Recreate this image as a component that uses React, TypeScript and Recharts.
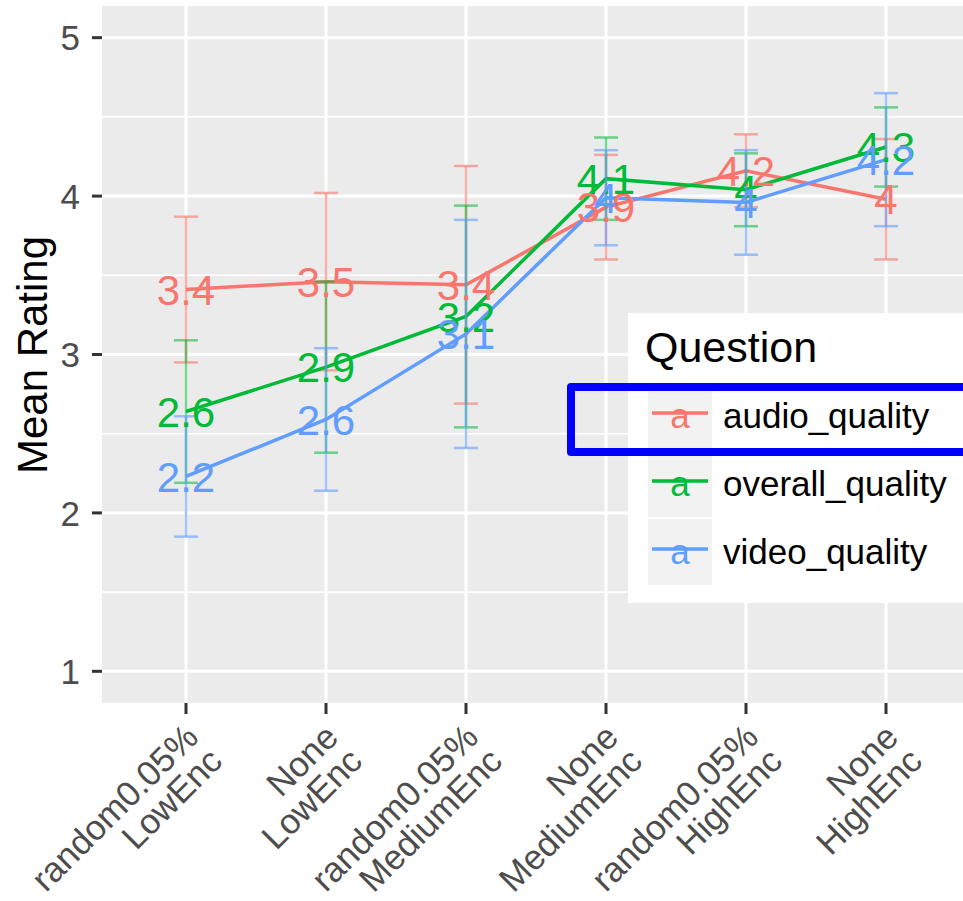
import React from 'react';
import { LineChart, Line, XAxis, YAxis, CartesianGrid, ErrorBar, LabelList } from 'recharts';

// x categories (two-line tick labels)
const CATEGORY_TOP = ['random0.05%', 'None', 'random0.05%', 'None', 'random0.05%', 'None'];
const CATEGORY_BOTTOM = ['LowEnc', 'LowEnc', 'MediumEnc', 'MediumEnc', 'HighEnc', 'HighEnc'];

// mean ratings and error-bar half widths
const AUDIO_MEAN = [3.41, 3.46, 3.44, 3.93, 4.16, 3.98];
const AUDIO_ERR = [0.46, 0.56, 0.75, 0.33, 0.23, 0.38];
const OVERALL_MEAN = [2.64, 2.92, 3.24, 4.11, 4.04, 4.31];
const OVERALL_ERR = [0.45, 0.54, 0.7, 0.26, 0.23, 0.25];
const VIDEO_MEAN = [2.23, 2.59, 3.13, 3.99, 3.96, 4.23];
const VIDEO_ERR = [0.38, 0.45, 0.72, 0.3, 0.33, 0.42];

const Y_TICKS = [1, 2, 3, 4, 5];
const Y_MINOR = [1.5, 2.5, 3.5, 4.5];
const X_TICKS = [1, 2, 3, 4, 5, 6];

const SERIES = [
  { key: 'audio', name: 'audio_quality', color: '#F8766D', bar: 'rgba(248,118,109,0.6)' },
  { key: 'overall', name: 'overall_quality', color: '#00BA38', bar: 'rgba(0,186,56,0.55)' },
  { key: 'video', name: 'video_quality', color: '#619CFF', bar: 'rgba(97,156,255,0.6)' },
];

const data = CATEGORY_TOP.map((_, i) => ({
  x: i + 1,
  audio: AUDIO_MEAN[i],
  audioErr: AUDIO_ERR[i],
  overall: OVERALL_MEAN[i],
  overallErr: OVERALL_ERR[i],
  video: VIDEO_MEAN[i],
  videoErr: VIDEO_ERR[i],
}));

const FONT = '"Liberation Sans", Arial, Helvetica, sans-serif';
const AXIS_GRAY = '#4D4D4D';

// ggplot-style label: one decimal, no trailing zero
const fmt = (v: number) => String(Number(v.toFixed(1)));

function XTick({ x, y, payload }: any) {
  const i = payload.value - 1;
  return (
    <g transform={`translate(${x},${y + 9})`}>
      <text transform="rotate(-45)" textAnchor="end" fontSize={35} fill={AXIS_GRAY} fontFamily={FONT}>
        <tspan x={0} y={20}>{CATEGORY_TOP[i]}</tspan>
        <tspan x={0} y={54}>{CATEGORY_BOTTOM[i]}</tspan>
      </text>
    </g>
  );
}

function YTick({ x, y, payload }: any) {
  return (
    <text x={x + 2} y={y} dy="0.36em" textAnchor="end" fontSize={35} fill={AXIS_GRAY} fontFamily={FONT}>
      {payload.value}
    </text>
  );
}

function YTitle() {
  return (
    <text transform="translate(47,355) rotate(-90)" textAnchor="middle" fontSize={42} fill="#000" fontFamily={FONT}>
      Mean Rating
    </text>
  );
}

function makeLabel(color: string) {
  return (p: any) => (
    <text
      x={p.x}
      y={p.y}
      dy="0.36em"
      textAnchor="middle"
      fontSize={42}
      fill={color}
      fontFamily={FONT}
    >
      {fmt(p.value)}
    </text>
  );
}

function LegendBox() {
  return (
    <div
      style={{
        position: 'absolute',
        left: 628,
        top: 313,
        width: 380,
        height: 290,
        background: '#FFFFFF',
        fontFamily: FONT,
      }}
    >
      <svg width={380} height={290}>
        <text x={17} y={49} fontSize={43} fill="#000">Question</text>
        {SERIES.map((s, i) => {
          const top = 70 + i * 68;
          const cy = top + 33;
          return (
            <g key={s.key}>
              <rect x={20} y={top} width={64} height={66} fill="#F2F2F2" />
              <line x1={24} x2={80} y1={cy - 3} y2={cy - 3} stroke={s.color} strokeWidth={3.5} />
              <text x={52} y={cy + 12} textAnchor="middle" fontSize={35} fill={s.color}>a</text>
              <text x={95} y={cy + 12} fontSize={35} fill="#000">{s.name}</text>
            </g>
          );
        })}
      </svg>
    </div>
  );
}

export default function App() {
  return (
    <div style={{ position: 'absolute', left: 0, top: 0, width: 963, height: 901, overflow: 'hidden', background: '#fff' }}>
      <LineChart width={970} height={901} data={data} margin={{ top: 6, right: 0, bottom: 0, left: 0 }}>
        <CartesianGrid
          fill="#EBEBEB"
          stroke="#FFFFFF"
          strokeWidth={3}
          horizontalValues={Y_TICKS}
          verticalValues={X_TICKS}
        />
        <CartesianGrid fill="none" stroke="#FFFFFF" strokeWidth={1.6} vertical={false} horizontalValues={Y_MINOR} />
        <XAxis
          dataKey="x"
          type="number"
          domain={[0.4, 6.6]}
          ticks={X_TICKS}
          height={198}
          axisLine={false}
          tickSize={11}
          tickLine={{ stroke: '#333333', strokeWidth: 3 }}
          tick={<XTick />}
          interval={0}
        />
        <YAxis
          type="number"
          domain={[0.8, 5.2]}
          ticks={Y_TICKS}
          width={102}
          axisLine={false}
          tickSize={10}
          tickMargin={14}
          tickLine={{ stroke: '#333333', strokeWidth: 3 }}
          tick={<YTick />}
          label={{ content: <YTitle /> }}
        />
        {SERIES.map((s) => (
          <Line
            key={s.key}
            dataKey={s.key}
            name={s.name}
            stroke={s.color}
            strokeWidth={3.5}
            dot={false}
            activeDot={false}
            isAnimationActive={false}
          >
            <ErrorBar dataKey={`${s.key}Err`} direction="y" width={12} stroke={s.bar} strokeWidth={2.5} isAnimationActive={false} />
          </Line>
        ))}
        {SERIES.map((s) => (
          <Line
            key={`${s.key}-labels`}
            dataKey={s.key}
            stroke="none"
            dot={false}
            activeDot={false}
            legendType="none"
            isAnimationActive={false}
          >
            <LabelList dataKey={s.key} content={makeLabel(s.color)} />
          </Line>
        ))}
      </LineChart>
      <LegendBox />
      <div
        style={{
          position: 'absolute',
          left: 567,
          top: 383,
          width: 460,
          height: 73,
          border: '8px solid #0000FF',
          borderRadius: 4,
          boxSizing: 'border-box',
        }}
      />
    </div>
  );
}
